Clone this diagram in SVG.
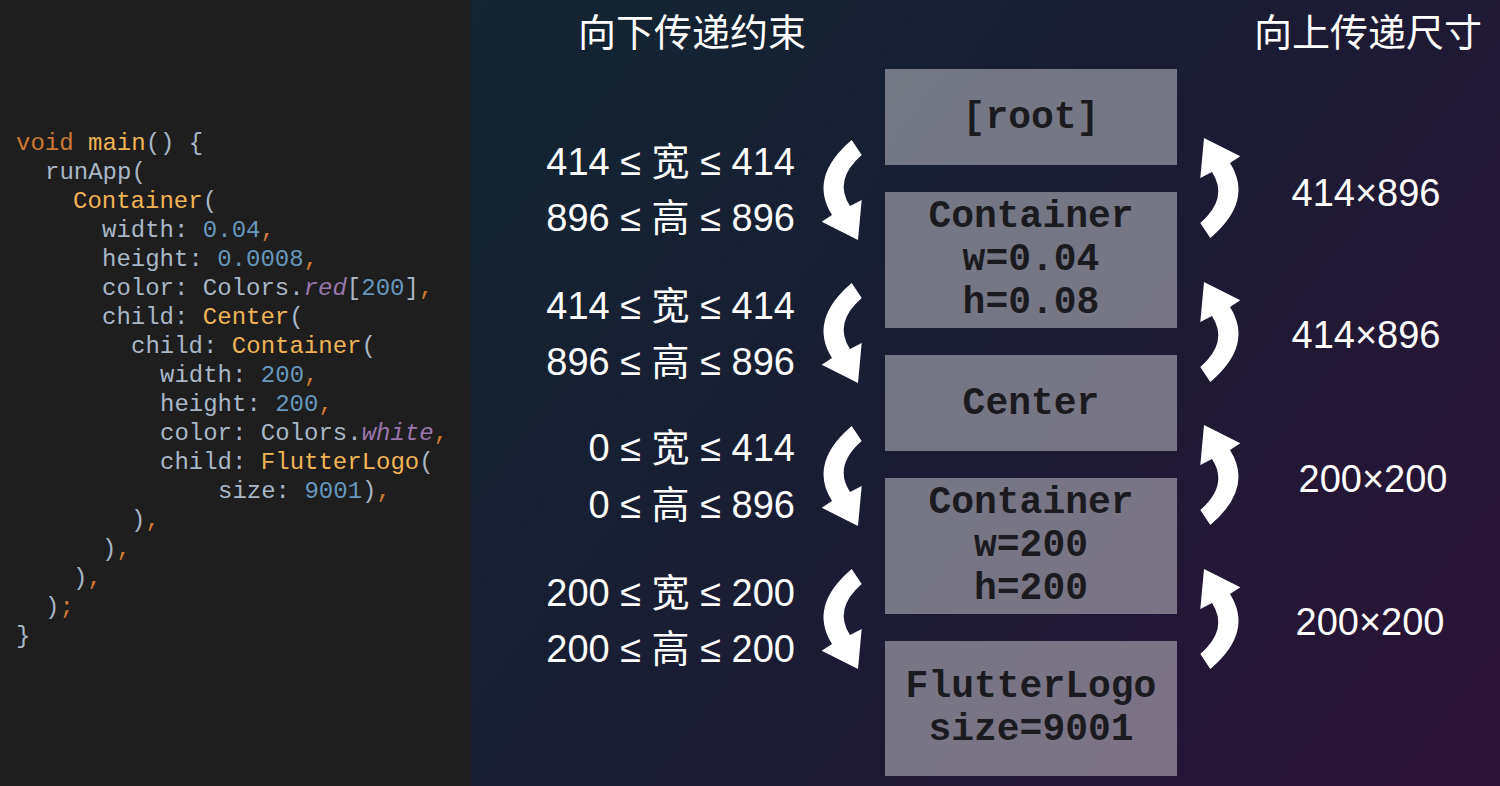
<svg xmlns="http://www.w3.org/2000/svg" width="1500" height="786" viewBox="0 0 1500 786">
<defs>
<linearGradient id="bg" x1="471" y1="0" x2="1500" y2="786" gradientUnits="userSpaceOnUse">
<stop offset="0" stop-color="#122531"/>
<stop offset="0.5" stop-color="#1b1c33"/>
<stop offset="1" stop-color="#2c1237"/>
</linearGradient>
<path id="down" d="M41.7,10 L51.7,25 Q23,50 40,76 L51.7,70 L48,110 L11.7,91.7 L22,85 Q-2,47 41.7,10 Z" fill="#ffffff"/>
<style>
.code{font-family:"Liberation Mono","DejaVu Sans Mono",monospace;font-size:24px;fill:#a9b7c6}
.kw{fill:#cc7832}.fn{fill:#f0b454}.num{fill:#6897bb}.pu{fill:#cc7832}.it{fill:#9876aa;font-style:italic}
.box{fill:#ffffff;fill-opacity:0.4}
.bt{font-family:"Liberation Mono","Courier New",monospace;font-weight:bold;font-size:38px;fill:#1b1b1f;text-anchor:middle}
.lbl{font-family:"Liberation Sans","Noto Sans CJK SC",sans-serif;font-size:38px;fill:#ffffff}
.ttl{font-family:"Noto Sans CJK SC",sans-serif;font-size:38px;fill:#ffffff}
</style>
</defs>
<rect x="0" y="0" width="1500" height="786" fill="url(#bg)"/>
<rect x="0" y="0" width="471" height="786" fill="#1e1e1e"/>

<g id="code" class="code" xml:space="preserve">
<text x="16" y="150"><tspan class="kw">void</tspan> <tspan class="fn">main</tspan>() {</text>
<text x="45" y="179">runApp(</text>
<text x="73" y="208"><tspan class="fn">Container</tspan>(</text>
<text x="102" y="237">width: <tspan class="num">0.04</tspan><tspan class="pu">,</tspan></text>
<text x="102" y="266">height: <tspan class="num">0.0008</tspan><tspan class="pu">,</tspan></text>
<text x="102" y="295">color: Colors.<tspan class="it">red</tspan>[<tspan class="num">200</tspan>]<tspan class="pu">,</tspan></text>
<text x="102" y="324">child: <tspan class="fn">Center</tspan>(</text>
<text x="131" y="353">child: <tspan class="fn">Container</tspan>(</text>
<text x="160" y="382">width: <tspan class="num">200</tspan><tspan class="pu">,</tspan></text>
<text x="160" y="411">height: <tspan class="num">200</tspan><tspan class="pu">,</tspan></text>
<text x="160" y="440">color: Colors.<tspan class="it">white</tspan><tspan class="pu">,</tspan></text>
<text x="160" y="469">child: <tspan class="fn">FlutterLogo</tspan>(</text>
<text x="218" y="498">size: <tspan class="num">9001</tspan>)<tspan class="pu">,</tspan></text>
<text x="131" y="527">)<tspan class="pu">,</tspan></text>
<text x="102" y="556">)<tspan class="pu">,</tspan></text>
<text x="73" y="585">)<tspan class="pu">,</tspan></text>
<text x="45" y="614">)<tspan class="pu">;</tspan></text>
<text x="16" y="643">}</text>
</g>

<g id="titles">
<text class="ttl" x="578" y="46">向下传递约束</text>
<text class="ttl" x="1254" y="46">向上传递尺寸</text>
</g>

<g id="node-root">
<rect class="box" x="885" y="69" width="292" height="96"/>
<text class="bt" x="1031" y="128">[root]</text>
</g>
<g id="node-container1">
<rect class="box" x="885" y="192" width="292" height="136"/>
<text class="bt" x="1031" y="227">Container</text>
<text class="bt" x="1031" y="270">w=0.04</text>
<text class="bt" x="1031" y="313">h=0.08</text>
</g>
<g id="node-center">
<rect class="box" x="885" y="355" width="292" height="96"/>
<text class="bt" x="1031" y="414">Center</text>
</g>
<g id="node-container2">
<rect class="box" x="885" y="478" width="292" height="136"/>
<text class="bt" x="1031" y="513">Container</text>
<text class="bt" x="1031" y="556">w=200</text>
<text class="bt" x="1031" y="599">h=200</text>
</g>
<g id="node-flutterlogo">
<rect class="box" x="885" y="641" width="292" height="135"/>
<text class="bt" x="1031" y="697">FlutterLogo</text>
<text class="bt" x="1031" y="740">size=9001</text>
</g>

<g id="connectors">
<use href="#down" transform="translate(810,130)"/>
<use href="#down" transform="translate(810,273)"/>
<use href="#down" transform="translate(810,416)"/>
<use href="#down" transform="translate(810,559)"/>
<use href="#down" transform="translate(1252,248) rotate(180)"/>
<use href="#down" transform="translate(1252,392) rotate(180)"/>
<use href="#down" transform="translate(1252,535) rotate(180)"/>
<use href="#down" transform="translate(1252,679) rotate(180)"/>
</g>

<g id="constraint-labels" class="lbl" text-anchor="end">
<text x="795" y="175">414 ≤ 宽 ≤ 414</text>
<text x="795" y="231">896 ≤ 高 ≤ 896</text>
<text x="795" y="319">414 ≤ 宽 ≤ 414</text>
<text x="795" y="375">896 ≤ 高 ≤ 896</text>
<text x="795" y="461">0 ≤ 宽 ≤ 414</text>
<text x="795" y="518">0 ≤ 高 ≤ 896</text>
<text x="795" y="606">200 ≤ 宽 ≤ 200</text>
<text x="795" y="662">200 ≤ 高 ≤ 200</text>
</g>

<g id="size-labels" class="lbl" text-anchor="middle">
<text x="1366" y="206">414×896</text>
<text x="1366" y="348">414×896</text>
<text x="1373" y="492">200×200</text>
<text x="1370" y="635">200×200</text>
</g>
</svg>
